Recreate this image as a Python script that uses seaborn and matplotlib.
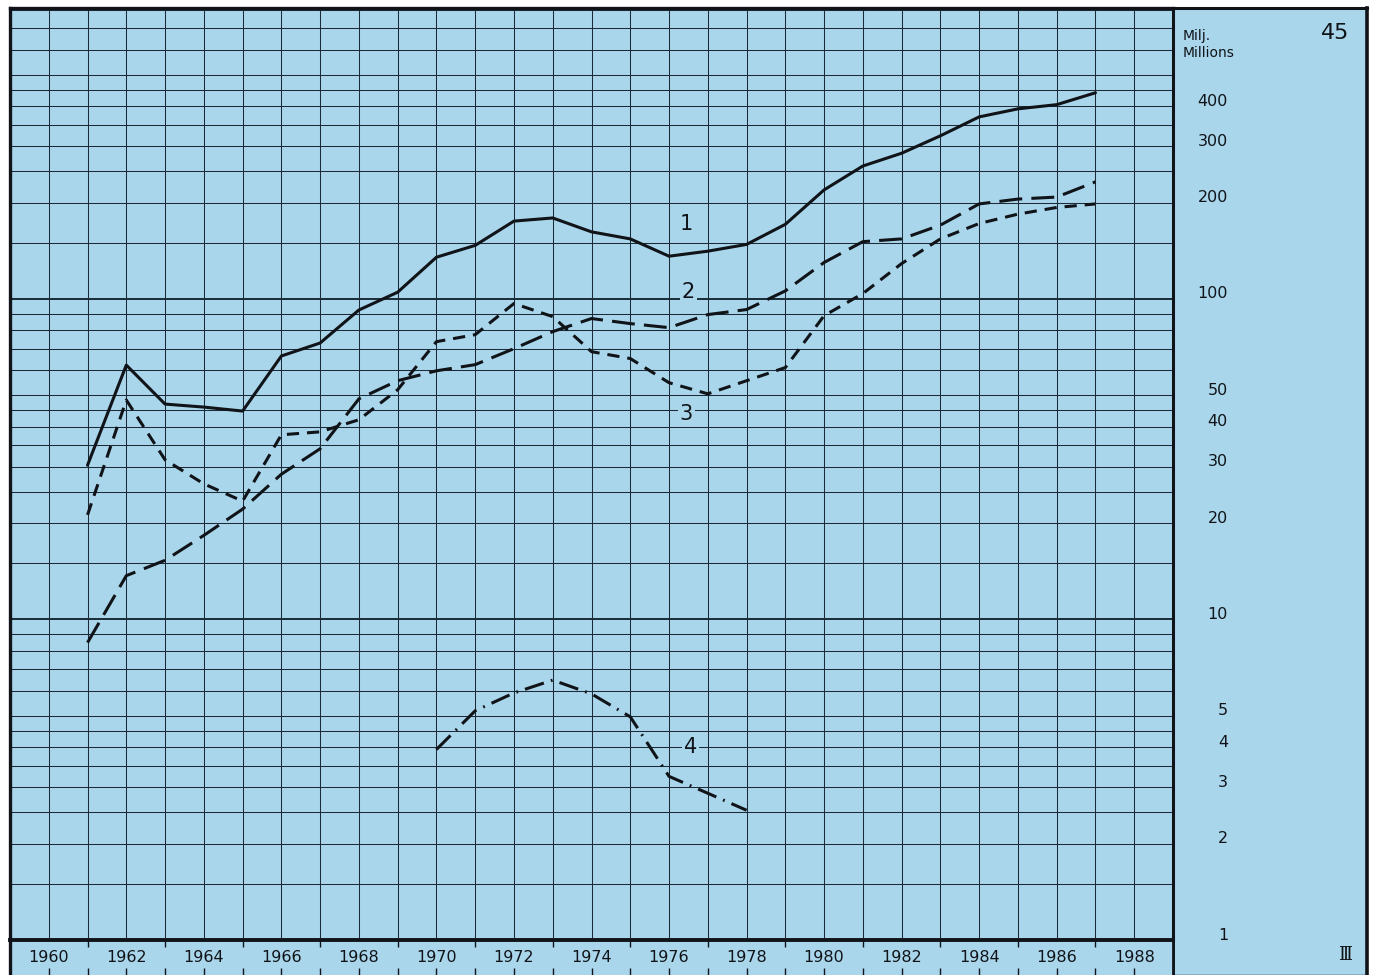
import matplotlib
matplotlib.use("Agg")
import matplotlib.pyplot as plt
import matplotlib.transforms as mtransforms
from matplotlib.ticker import FixedLocator, NullFormatter
import numpy as np
import pandas as pd
import seaborn as sns

# ---------------- data ----------------
years = list(range(1961, 1988))
series1 = [30.3, 62.2, 47.0, 46.0, 44.7, 66.4, 72.9, 92.4, 105, 135, 147, 175, 179,
           162, 154, 136, 141, 148, 171, 219, 260, 285, 323, 370, 392, 404, 440]
series2 = [8.47, 13.7, 15.3, 18.3, 22.1, 28.4, 34.1, 48.8, 55.6, 59.7, 62.4, 70.0, 79.1,
           86.9, 83.8, 81.4, 89.4, 92.7, 106, 130, 151, 154, 170, 198, 205, 208, 232]
series3 = [21.2, 48.4, 31.5, 26.5, 23.4, 37.7, 38.5, 42.0, 52.1, 73.6, 77.4, 96.8, 88.1,
           68.5, 65.2, 54.8, 50.6, 55.6, 61.1, 88.7, 104, 129, 154, 172, 184, 193, 198]
years4 = list(range(1970, 1979))
series4 = [3.93, 5.19, 5.90, 6.47, 5.86, 4.97, 3.24, 2.87, 2.54]

series_names = ["1", "2", "3", "4"]
label_x = [1976.45, 1976.5, 1976.45, 1976.55]
label_y = [171, 105.5, 43.9, 4.01]

year_labels = [1960, 1962, 1964, 1966, 1968, 1970, 1972, 1974, 1976, 1978,
               1980, 1982, 1984, 1986, 1988]
value_labels = [400, 300, 200, 100, 50, 40, 30, 20, 10, 5, 4, 3, 2, 1]
unit_text = "Milj.\nMillions"
page_number = "45"
section_mark = "Ⅲ"

# ---------------- style ----------------
BLUE = "#aad6ec"
GRID = "#1b2b38"
INK = "#101418"

sns.set_style("white")
plt.rcParams["font.family"] = ["DejaVu Sans"]

W, H = 1374, 975
fig = plt.figure(figsize=(W / 100, H / 100), dpi=100)
fig.patch.set_facecolor("white")

def fx(px):
    return px / W

def fy(py):
    return 1 - py / H

# right panel (drawn first, below)
rp = fig.add_axes([fx(1173), fy(975), fx(1367 - 1173), (975 - 8) / H], zorder=0)
rp.set_facecolor(BLUE)
rp.set_xticks([]); rp.set_yticks([])
for s, lw in (("top", 2.2), ("right", 2.6), ("left", 2.0), ("bottom", 1.0)):
    rp.spines[s].set_linewidth(lw)
    rp.spines[s].set_color(INK)
rp.text(10 / 194, 1 - 21 / 967, unit_text, transform=rp.transAxes, ha="left", va="top",
        fontsize=10, color=INK, linespacing=1.3)
rp.text(176 / 194, 1 - 25 / 967, page_number, transform=rp.transAxes, ha="right",
        va="center", fontsize=16, color=INK)
rp.text(172 / 194, 1 - 947 / 967, section_mark, transform=rp.transAxes, ha="center",
        va="center", fontsize=13, color=INK, family=["DejaVu Serif", "DejaVu Sans"])

# year strip
sa = fig.add_axes([fx(10), 0, fx(1173 - 10), 35 / H], zorder=1)
sa.set_facecolor(BLUE)
sa.set_xlim(1959, 1989)
sa.set_ylim(0, 1)
sa.set_yticks([])
sa.xaxis.set_major_locator(FixedLocator(list(range(1960, 1989))))
sa.xaxis.set_major_formatter(NullFormatter())
sa.tick_params(axis="x", direction="in", length=5, width=1, color=INK, bottom=True, top=False)
sec = sa.secondary_xaxis("top")
sec.set_xticks(list(range(1961, 1989, 2)))
sec.set_xticklabels([])
sec.tick_params(direction="in", length=5, width=1, color=INK)
sec.spines["top"].set_visible(False)
for s, lw in (("left", 2.4), ("right", 2.0)):
    sa.spines[s].set_linewidth(lw)
    sa.spines[s].set_color(INK)
sa.spines["top"].set_visible(False)
sa.spines["bottom"].set_visible(False)
blend = mtransforms.blended_transform_factory(sa.transData, sa.transAxes)
for yr in year_labels:
    sa.text(yr, 0.5, str(yr), transform=blend, ha="center", va="center",
            fontsize=11.5, color=INK)

# main chart
ax = fig.add_axes([fx(10), 35 / H, fx(1173 - 10), (940 - 8) / H], zorder=2)
ax.set_facecolor(BLUE)

df = pd.concat([
    pd.DataFrame({"year": years, "value": series1, "series": "1"}),
    pd.DataFrame({"year": years, "value": series2, "series": "2"}),
    pd.DataFrame({"year": years, "value": series3, "series": "3"}),
    pd.DataFrame({"year": years4, "value": series4, "series": "4"}),
], ignore_index=True)

dashes = {"1": "", "2": (7.5, 3.0), "3": (4.0, 2.6), "4": (6.5, 2.4, 0.6, 2.4)}
sns.lineplot(data=df, x="year", y="value", style="series", dashes=dashes,
             style_order=series_names, color=INK, linewidth=2.2, estimator=None,
             legend=False, ax=ax, zorder=5)

ax.set_yscale("log")
ax.set_xlim(1959, 1989)
ax.set_ylim(1, 809)

steps = [1, 1.5, 2, 2.5, 3, 3.5, 4, 4.5, 5, 6, 7, 8, 9]
minor_vals = [s * d for d in (1, 10, 100) for s in steps if s != 1 and s * d <= 800]
ax.yaxis.set_major_locator(FixedLocator([10, 100]))
ax.yaxis.set_minor_locator(FixedLocator(minor_vals))
ax.yaxis.set_major_formatter(NullFormatter())
ax.yaxis.set_minor_formatter(NullFormatter())
ax.xaxis.set_major_locator(FixedLocator(list(range(1960, 1989))))
ax.xaxis.set_major_formatter(NullFormatter())
ax.tick_params(which="both", length=0)
ax.grid(True, axis="x", which="major", color=GRID, lw=0.75)
ax.grid(True, axis="y", which="major", color=GRID, lw=1.4)
ax.grid(True, axis="y", which="minor", color=GRID, lw=0.75)
ax.set_axisbelow(True)
ax.set_xlabel(""); ax.set_ylabel("")
for s, lw in (("left", 2.4), ("top", 2.4), ("bottom", 2.8), ("right", 2.2)):
    ax.spines[s].set_linewidth(lw)
    ax.spines[s].set_color(INK)
    ax.spines[s].set_visible(True)

# series labels
for name, x, y in zip(series_names, label_x, label_y):
    ax.text(x, y, name, ha="center", va="center", fontsize=15, color=INK, zorder=6,
            bbox=dict(facecolor=BLUE, edgecolor="none", pad=1.5))

# value labels in the right panel
xr = (1228 - 10) / (1173 - 10)
for v in value_labels:
    ax.annotate(str(v), xy=(xr, v), xycoords=("axes fraction", "data"),
                xytext=(0, 5), textcoords="offset pixels", ha="right", va="center",
                fontsize=11.5, color=INK, annotation_clip=False)

fig.savefig("out.png", dpi=100)
